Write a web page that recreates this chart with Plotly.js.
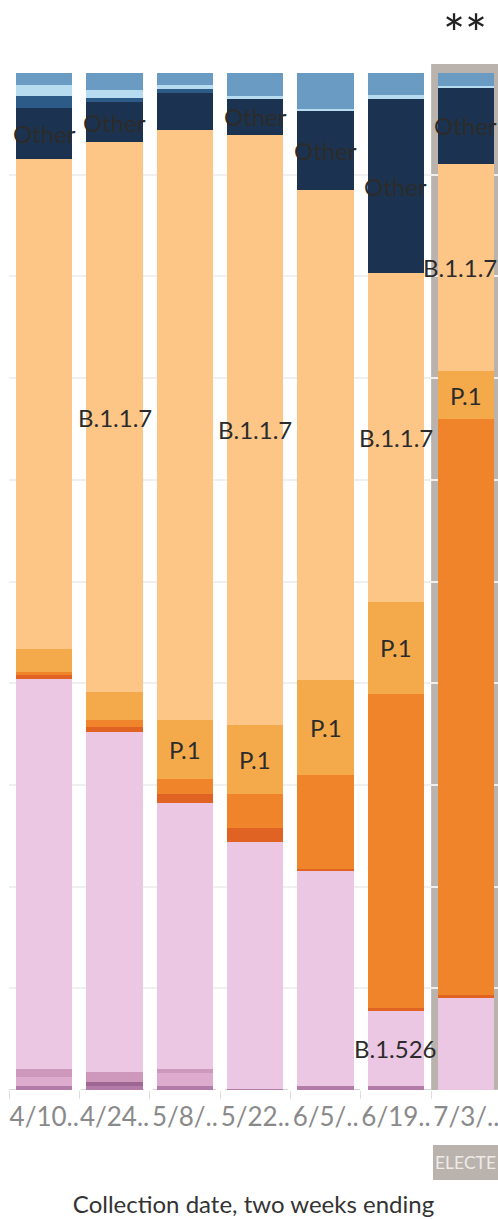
<!DOCTYPE html>
<html>
<head>
<meta charset="utf-8">
<script src="https://cdn.plot.ly/plotly-3.0.1.min.js"></script>
<style>
  html, body { margin: 0; padding: 0; background: #ffffff; }
  #chart { width: 498px; height: 1219px; }
</style>
</head>
<body>
<div id="chart"></div>
<script>
// Categories (tick labels as shown, truncated)
const categories = ["4/10..", "4/24..", "5/8/..", "5/22..", "6/5/..", "6/19..", "7/3/.."];

// Percent share per lineage, stacked bottom -> top
const purpleA   = [0.40, 0.42, 0.39, 0.10, 0.39, 0.39, 0.00];
const purpleB   = [0.00, 0.39, 0.00, 0.00, 0.00, 0.00, 0.00];
const pinkMid   = [0.90, 0.00, 1.28, 0.00, 0.00, 0.00, 0.00];
const pinkDark  = [0.75, 0.98, 0.39, 0.00, 0.00, 0.00, 0.00];
const b1526     = [38.3, 33.4, 26.2, 24.3, 21.1, 7.37, 9.00];
const darkOrng  = [0.46, 0.55, 0.91, 1.38, 0.27, 0.27, 0.32];
const orange    = [0.26, 0.66, 1.45, 3.30, 9.17, 30.9, 56.6];
const p1        = [2.30, 2.70, 5.80, 6.80, 9.34, 9.05, 4.75];
const b117      = [48.1, 54.1, 58.1, 58.0, 48.2, 32.3, 20.35];
const other     = [5.00, 3.90, 3.57, 3.54, 7.73, 17.1, 7.57];
const medBlue   = [1.20, 0.40, 0.39, 0.00, 0.00, 0.00, 0.00];
const lightBlue = [1.05, 0.80, 0.39, 0.26, 0.24, 0.46, 0.14];
const steel     = [1.20, 1.70, 1.21, 2.26, 3.50, 2.12, 1.24];

// Which bars carry a text label for a series (1 = shown)
const otherLabel = [1, 1, 0, 1, 1, 1, 1];
const b117Label  = [0, 1, 0, 1, 0, 1, 1];
const p1Label    = [0, 0, 1, 1, 1, 1, 1];
const b1526Label = [0, 0, 0, 0, 0, 1, 0];

const selectedIndex = 6;

const series = [
  {name: "s1", values: purpleA,  color: "#b27ba8"},
  {name: "s2", values: purpleB,  color: "#9e6693"},
  {name: "s3", values: pinkMid,  color: "#ddabcd"},
  {name: "s4", values: pinkDark, color: "#cd98bc"},
  {name: "B.1.526", values: b1526, color: "#ecc7e3", label: "B.1.526", show: b1526Label},
  {name: "s6", values: darkOrng, color: "#e06323"},
  {name: "s7", values: orange,   color: "#f0842b"},
  {name: "P.1", values: p1,      color: "#f4a94b", label: "P.1", show: p1Label},
  {name: "B.1.1.7", values: b117, color: "#fdc586", label: "B.1.1.7", show: b117Label},
  {name: "Other", values: other, color: "#1b3350", label: "Other", show: otherLabel},
  {name: "s11", values: medBlue,  color: "#2d5b88"},
  {name: "s12", values: lightBlue, color: "#b7dbef"},
  {name: "s13", values: steel,    color: "#6a9bc3"}
];

// normalise each bar to 100
const totals = categories.map((_, i) => series.reduce((s, d) => s + d.values[i], 0));
const norm = series.map(d => d.values.map((v, i) => v / totals[i] * 100));

const traces = series.map((d, k) => ({
  type: "bar",
  name: d.name,
  x: categories,
  y: norm[k],
  marker: {color: d.color, line: {width: 0}},
  hoverinfo: "x+y+name",
  showlegend: false
}));

const FONT = "Lato, 'Open Sans', sans-serif";
const W = 498, H = 1219;
const mL = 9, mR = 0;
const plotTop = 73, plotBottom = 1090, plotH = plotBottom - plotTop;
const xRange = [-0.5, 6.45];
const plotW = W - mL - mR;
const unit = plotW / (xRange[1] - xRange[0]);

// measure label widths so labels near the right edge stay inside
const ctx = document.createElement("canvas").getContext("2d");
ctx.font = "24px Lato";

const annotations = [];
const cum = categories.map(() => 0);
series.forEach((d, k) => {
  categories.forEach((c, i) => {
    const v = norm[k][i];
    if (d.label && d.show[i]) {
      const w = ctx.measureText(d.label).width;
      const cx = mL + (i - xRange[0]) * unit;
      let shift = 0;
      if (cx + w / 2 > W - 1) shift = (W - 1) - (cx + w / 2);
      annotations.push({
        x: c, xref: "x", y: cum[i] + v / 2, yref: "y",
        text: d.label, showarrow: false, xshift: shift,
        font: {family: FONT, size: 24, color: "#2b2b2b"},
        xanchor: "center", yanchor: "middle"
      });
    }
    cum[i] += v;
  });
});

annotations.push({
  x: (489 - mL) / plotW, xref: "paper", xanchor: "right",
  y: (plotBottom - 0) / plotH, yref: "paper", yanchor: "top",
  text: "**", showarrow: false,
  font: {family: FONT, size: 52, color: "#222"}
});
annotations.push({
  x: (433 - mL) / plotW, xref: "paper", xanchor: "left",
  y: (plotBottom - 1162) / plotH, yref: "paper", yanchor: "middle",
  text: "ELECTE", showarrow: false,
  font: {family: FONT, size: 17.5, color: "#eeeae7"}
});

const shapes = [
  {
    type: "rect", xref: "x", yref: "paper",
    x0: selectedIndex - 0.5, x1: selectedIndex + 0.5,
    y0: 0, y1: (plotBottom - 64) / plotH,
    fillcolor: "#bab2ad", line: {width: 0}, layer: "between"
  },
  {
    type: "line", xref: "paper", yref: "y",
    x0: 0, x1: 1, y0: 0, y1: 0,
    line: {color: "#c8c8c8", width: 1.5, dash: "dash"}, layer: "between"
  },
  {
    type: "rect", xref: "paper", yref: "paper",
    x0: (433 - mL) / plotW, x1: 1.0,
    y0: (plotBottom - 1180) / plotH, y1: (plotBottom - 1145) / plotH,
    fillcolor: "#bab2ad", line: {width: 0}, layer: "below"
  }
];

const layout = {
  width: W, height: H,
  margin: {l: mL, r: mR, t: plotTop, b: H - plotBottom, pad: 0},
  paper_bgcolor: "#ffffff", plot_bgcolor: "#ffffff",
  barmode: "stack",
  bargap: 0.2,
  font: {family: FONT, color: "#333"},
  xaxis: {
    type: "category",
    range: xRange,
    tickson: "boundaries",
    tickangle: 0,
    ticks: "outside", ticklen: 8, tickcolor: "#dddddd", tickwidth: 1,
    ticklabelstandoff: 9,
    tickfont: {family: FONT, size: 26, color: "#8a8a8a"},
    showgrid: false, zeroline: false, showline: false,
    title: {text: "Collection date, two weeks ending", standoff: 65,
            font: {family: FONT, size: 24, color: "#333"}},
    fixedrange: true
  },
  yaxis: {
    range: [0, 100],
    dtick: 10,
    showticklabels: false,
    showgrid: true, gridcolor: "#efefef", gridwidth: 2,
    zeroline: false, showline: false,
    fixedrange: true
  },
  annotations: annotations,
  shapes: shapes
};

Plotly.newPlot("chart", traces, layout, {displayModeBar: false, responsive: false});
</script>
</body>
</html>
